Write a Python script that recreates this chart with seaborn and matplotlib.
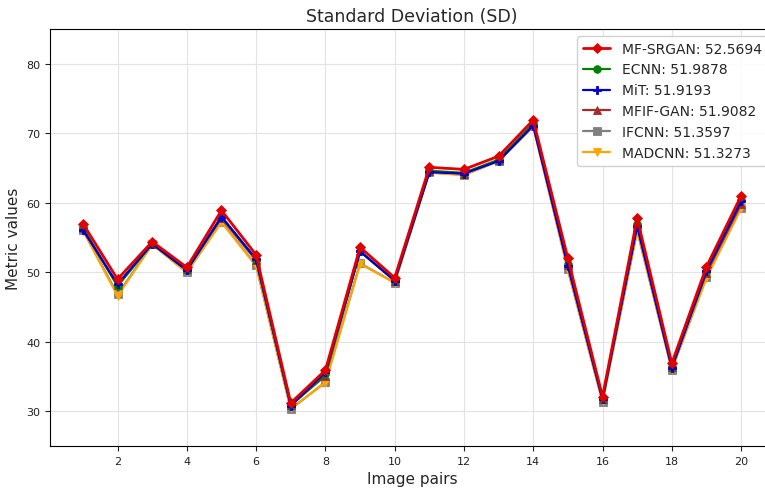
import numpy as np
import pandas as pd
import matplotlib
matplotlib.use("Agg")
import matplotlib.pyplot as plt
import seaborn as sns

pairs = list(range(1, 21))
methods = ["MF-SRGAN", "ECNN", "MiT", "MFIF-GAN", "IFCNN", "MADCNN"]
scores = ["52.5694", "51.9878", "51.9193", "51.9082", "51.3597", "51.3273"]

mf_srgan = [57.0, 49.0, 54.4, 50.7, 58.9, 52.5, 31.2, 35.9, 53.6, 49.2,
            65.1, 64.8, 66.7, 71.9, 52.0, 32.1, 57.8, 36.9, 50.8, 61.0]
ecnn = [56.4, 48.0, 54.1, 50.3, 58.0, 51.8, 30.8, 35.3, 53.0, 48.8,
        64.6, 64.3, 66.2, 71.4, 51.2, 31.8, 57.0, 36.4, 50.2, 60.4]
mit = [56.1, 48.3, 54.1, 50.3, 58.0, 51.9, 30.8, 35.6, 53.0, 48.8,
       64.4, 64.2, 66.0, 71.1, 50.9, 31.7, 56.6, 36.2, 50.2, 60.2]
mfif_gan = [56.3, 48.1, 54.1, 50.4, 57.8, 51.7, 30.9, 35.1, 53.0, 48.8,
            64.5, 64.2, 66.1, 71.3, 51.0, 31.8, 57.0, 36.4, 49.9, 59.8]
ifcnn = [56.1, 46.8, 54.0, 50.0, 57.3, 51.0, 30.3, 34.2, 51.3, 48.5,
         64.4, 64.0, 66.0, 71.0, 50.4, 31.3, 56.0, 36.0, 49.3, 59.3]
madcnn = [56.0, 46.6, 54.0, 50.0, 57.2, 50.9, 30.4, 34.1, 51.2, 48.5,
          64.3, 64.0, 66.0, 71.0, 50.3, 31.5, 56.0, 36.1, 49.2, 59.2]

series = [mf_srgan, ecnn, mit, mfif_gan, ifcnn, madcnn]
colors = ["#e00000", "green", "#0000cc", "brown", "gray", "orange"]
markers = ["D", "o", "P", "^", "s", "v"]
zorders = [8, 6, 7, 5, 3, 4]

sns.set_style("white")
plt.rcParams["font.family"] = ["DejaVu Sans"]

fig = plt.figure(figsize=(7.65, 4.89), dpi=100)
fig.patch.set_linewidth(0)
ax = fig.add_axes([50 / 765, 1 - 447 / 489, (774 - 50) / 765, (447 - 30) / 489])
ax.patch.set_visible(False)

for name, score, vals, c, m, z in zip(methods, scores, series, colors, markers, zorders):
    df = pd.DataFrame({"pair": pairs, "value": vals})
    lw = 2.0 if name == "MF-SRGAN" else 1.6
    sns.lineplot(data=df, x="pair", y="value", ax=ax, color=c, marker=m,
                 markersize=5.5, markeredgewidth=0.6, markeredgecolor=c,
                 linewidth=lw, label=f"{name}: {score}", zorder=z)

ax.set_xlim(0.05, 20.95)
ax.set_ylim(25, 85)
ax.set_xticks(range(2, 21, 2))
ax.set_yticks(range(30, 81, 10))
ax.tick_params(axis="both", labelsize=8, length=3.5, width=0.8, color="#222222",
               labelcolor="#222222", bottom=True, left=True)
ax.grid(True, color="#e3e3e3", linewidth=0.8)
for s in ax.spines.values():
    s.set_color("black")
    s.set_linewidth(0.8)
ax.spines["right"].set_visible(False)

ax.set_title("Standard Deviation (SD)", fontsize=12.5)
ax.set_xlabel("Image pairs", fontsize=11)
ax.set_ylabel("Metric values", fontsize=11)

leg = ax.legend(loc="upper right", fontsize=10, frameon=True, framealpha=0.9,
                borderaxespad=0.5, handlelength=2.0)
leg.get_frame().set_edgecolor("#cccccc")

fig.savefig("out.png", dpi=100)
